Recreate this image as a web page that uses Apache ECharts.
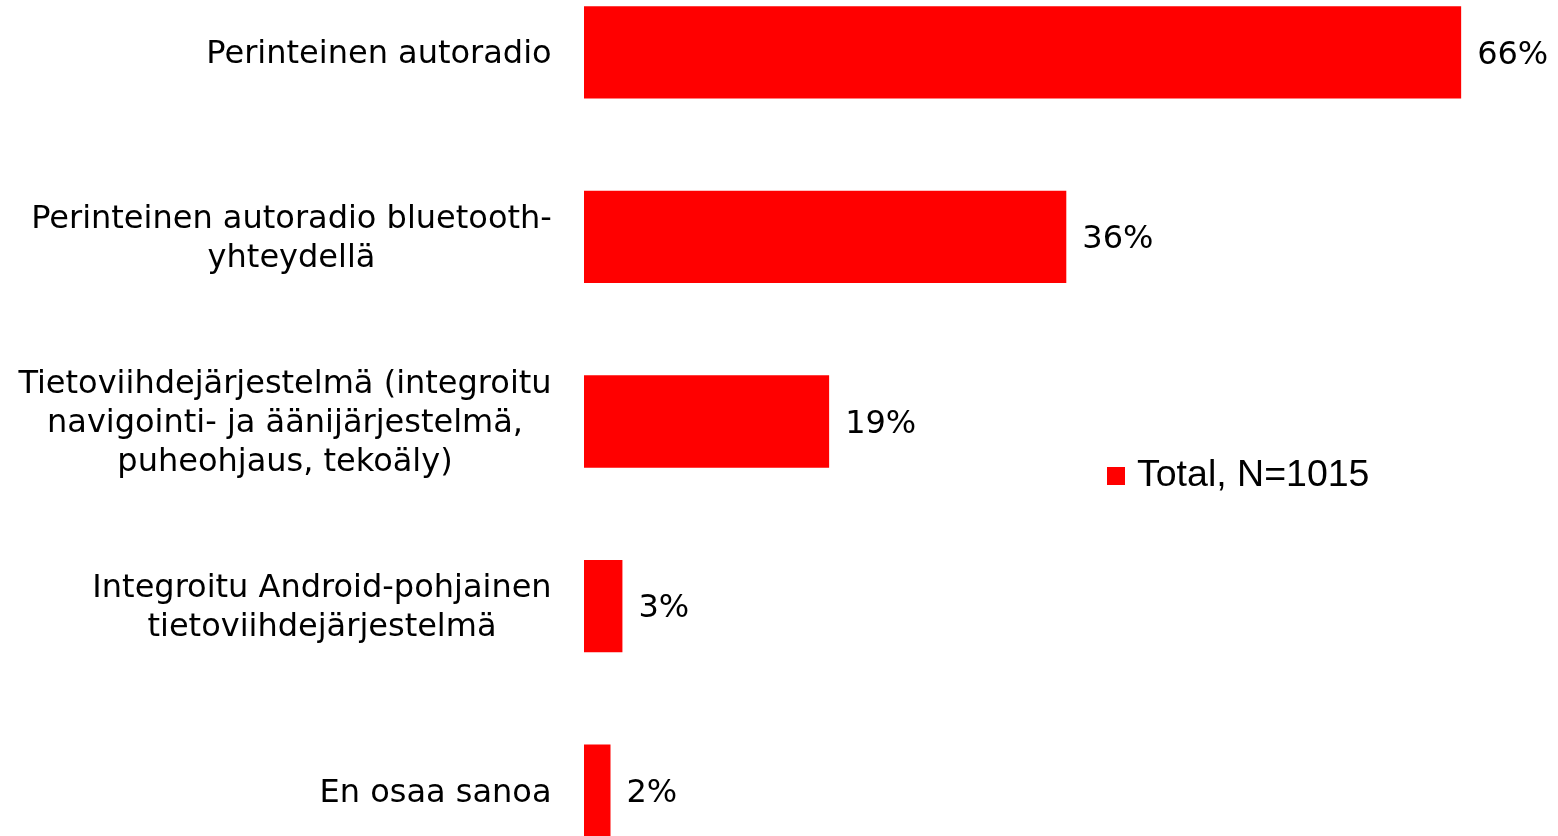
<!DOCTYPE html>
<html>
<head>
<meta charset="utf-8">
<script src="https://cdn.jsdelivr.net/npm/echarts@6/dist/echarts.min.js"></script>
<style>
  html, body { margin: 0; padding: 0; background: #fff; overflow: hidden; }
  /* plot runs past the top and bottom edge of the picture, as in the source */
  #chart { position: absolute; left: 0; top: -40px; width: 1558px; height: 923px; }
</style>
</head>
<body>
<div id="chart"></div>
<script>
const categories = [
  'Perinteinen autoradio',
  'Perinteinen autoradio bluetooth-\nyhteydellä',
  'Tietoviihdejärjestelmä (integroitu\nnavigointi- ja äänijärjestelmä,\npuheohjaus, tekoäly)',
  'Integroitu Android-pohjainen\ntietoviihdejärjestelmä',
  'En osaa sanoa'
];
// shares in % (labels are rounded)
const totalValues = [66.2, 36.4, 18.5, 2.9, 2.0];
const seriesName = 'Total, N=1015';

const labelFont = '32px "DejaVu Sans"';

// centre every line inside its label block, block stays right aligned
const ctx = document.createElement('canvas').getContext('2d');
ctx.font = labelFont;
const rich = {};
categories.forEach(function (c, i) {
  const w = Math.max.apply(null, c.split('\n').map(s => ctx.measureText(s).width));
  rich['l' + i] = { width: Math.ceil(w), align: 'center', fontSize: 32, lineHeight: 39, color: '#000' };
});

const chart = echarts.init(document.getElementById('chart'));

const option = {
  animation: false,
  textStyle: { fontFamily: 'DejaVu Sans' },
  legend: {
    left: 1107,
    top: 497,
    padding: 0,
    icon: 'rect',
    itemWidth: 18,
    itemHeight: 18,
    textStyle: {
      fontFamily: 'Liberation Sans',
      fontSize: 37.5,
      color: '#000',
      padding: [0, 0, 0, 7]
    },
    data: [seriesName]
  },
  grid: {
    left: 584,
    right: 46.5,
    top: 0,
    bottom: 0
  },
  xAxis: {
    type: 'value',
    min: 0,
    max: 70,
    show: false
  },
  yAxis: {
    type: 'category',
    inverse: true,
    data: categories,
    axisLine: { show: false },
    axisTick: { show: false },
    axisLabel: {
      margin: 32,
      fontSize: 32,
      lineHeight: 39,
      color: '#000',
      align: 'right',
      padding: [5, 0, 0, 0],
      formatter: function (value, index) {
        return value.split('\n').map(s => '{l' + index + '|' + s + '}').join('\n');
      },
      rich: rich
    }
  },
  series: [{
    name: seriesName,
    type: 'bar',
    data: totalValues,
    barCategoryGap: '50%',
    itemStyle: { color: '#ff0000' },
    label: {
      show: true,
      position: 'right',
      distance: 16,
      offset: [0, 3],
      fontSize: 32,
      color: '#000',
      formatter: p => Math.round(p.value) + '%'
    }
  }]
};

chart.setOption(option);
</script>
</body>
</html>
